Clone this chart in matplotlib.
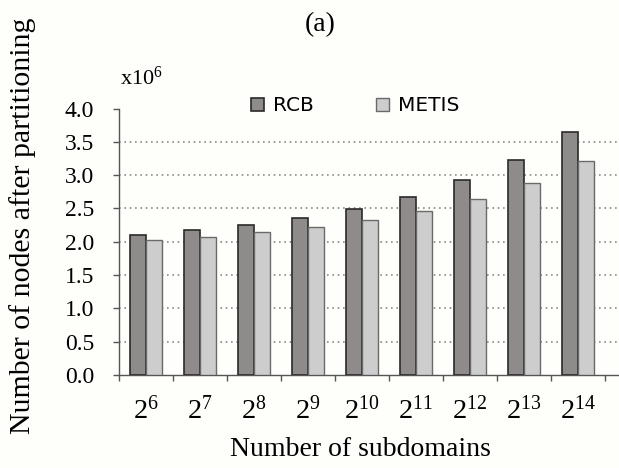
"""Grouped bar chart: nodes after partitioning vs number of subdomains (RCB vs METIS)."""
import matplotlib
matplotlib.use("Agg")
import matplotlib.pyplot as plt
import numpy as np

plt.rcParams["font.family"] = ["Liberation Serif", "DejaVu Serif"]
plt.rcParams["mathtext.fontset"] = "custom"
plt.rcParams["mathtext.rm"] = "Liberation Serif"
plt.rcParams["mathtext.it"] = "Liberation Serif:italic"

# data (x10^6 nodes)
exponents = [6, 7, 8, 9, 10, 11, 12, 13, 14]
rcb = [2.10, 2.17, 2.25, 2.36, 2.49, 2.67, 2.92, 3.22, 3.64]
metis = [2.02, 2.07, 2.14, 2.22, 2.33, 2.46, 2.64, 2.88, 3.21]
yticks = [0.0, 0.5, 1.0, 1.5, 2.0, 2.5, 3.0, 3.5, 4.0]

W, H = 619, 468
BG = "#fefefb"
fig = plt.figure(figsize=(W / 100, H / 100), dpi=100, facecolor=BG)
ax = fig.add_axes([119 / W, (H - 375) / H, (W - 119) / W, 266.5 / H])
ax.set_facecolor(BG)

x = np.arange(len(exponents))
bw = 0.29
ax.bar(x - bw / 2, rcb, width=bw, color="#8f8b8b", edgecolor="#2a2a2a",
       linewidth=1.2, label="RCB", zorder=3)
ax.bar(x + bw / 2, metis, width=bw, color="#cdcdcd", edgecolor="#6a6a6a",
       linewidth=1.0, label="METIS", zorder=3)

ax.set_xlim(-0.5, 8.76)
ax.set_ylim(0, 4.0)
ax.set_yticks(yticks)
ax.set_yticklabels([f"{v:.1f}" for v in yticks], fontsize=17)
ax.tick_params(axis="y", direction="out", length=4, width=1,
               color="#555555", pad=14)

# grid lines (no line at the top tick)
for v in yticks[1:-1]:
    ax.axhline(v, color="#8a8a8a", linewidth=1.2,
               linestyle=(0, (1.0, 2.2)), zorder=1)

ax.set_xticks(x)
ax.set_xticklabels([rf"$\mathregular{{2^{{{e}}}}}$" for e in exponents],
                   fontsize=20.5)
ax.set_xticks(np.arange(-0.5, 9.0, 1.0), minor=True)
ax.tick_params(axis="x", which="major", length=0, pad=15)
ax.tick_params(axis="x", which="minor", direction="out", length=4,
               width=1, color="#555555")

for s in ("top", "right"):
    ax.spines[s].set_visible(False)
for s in ("left", "bottom"):
    ax.spines[s].set_color("#555555")
    ax.spines[s].set_linewidth(1.0)

leg = ax.legend(loc="center", bbox_to_anchor=(0.472, 1.01), ncol=2,
                frameon=False, prop={"family": "DejaVu Sans", "size": 14.5},
                handlelength=0.65, handleheight=0.65, handletextpad=0.45,
                columnspacing=3.1, borderaxespad=0)

fig.text(320 / W, 1 - 25 / H, "(a)", ha="center", va="center", fontsize=20)
fig.text(141 / W, 1 - 78 / H, r"x10$^{\mathregular{6}}$", ha="center",
         va="center", fontsize=16)
fig.text(360 / W, 1 - 449 / H, "Number of subdomains", ha="center",
         va="center", fontsize=20)
fig.text(23 / W, 1 - 226 / H, "Number of nodes after partitioning",
         ha="center", va="center", rotation=90, fontsize=21.5)

fig.savefig("out.png", dpi=100, facecolor=BG)
